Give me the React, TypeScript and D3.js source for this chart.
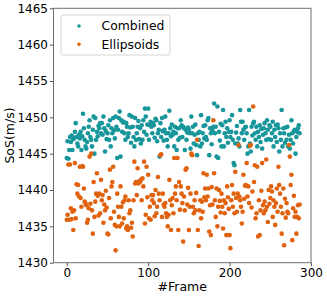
import React, { useEffect, useRef } from 'react';
import * as d3 from 'd3';

// SoS per frame
const combined: number[] = [
  1444.4, 1446.7, 1444.3, 1445.5, 1447.3, 1446.6, 1447.5, 1445.5, 1447.0, 1447.2,
  1448.0, 1449.2, 1447.3, 1446.4, 1446.0, 1447.6, 1447.1, 1448.0, 1445.5, 1447.4,
  1450.5, 1448.5, 1446.9, 1446.0, 1445.7, 1446.6, 1447.8, 1448.7, 1449.6, 1447.3,
  1446.9, 1446.0, 1448.3, 1450.1, 1445.0, 1449.9, 1446.9, 1448.0, 1447.4, 1448.8,
  1448.5, 1449.2, 1447.8, 1449.2, 1447.6, 1450.1, 1448.5, 1445.3, 1448.1, 1447.0,
  1447.8, 1448.9, 1446.9, 1449.6, 1446.0, 1448.5, 1447.8, 1449.9, 1448.2, 1447.1,
  1450.1, 1448.7, 1444.4, 1448.3, 1449.9, 1450.8, 1444.6, 1449.6, 1448.0, 1449.3,
  1449.4, 1447.8, 1446.9, 1449.2, 1448.7, 1447.3, 1447.8, 1450.3, 1448.6, 1446.5,
  1450.1, 1448.7, 1447.3, 1446.0, 1449.9, 1446.9, 1447.8, 1448.7, 1449.5, 1447.0,
  1448.5, 1446.4, 1448.9, 1446.9, 1449.6, 1448.0, 1451.2, 1450.1, 1447.6, 1449.0,
  1451.2, 1446.9, 1448.9, 1449.4, 1448.7, 1447.8, 1449.2, 1448.9, 1447.2, 1449.8,
  1449.6, 1446.7, 1447.8, 1448.3, 1444.6, 1449.2, 1447.3, 1449.9, 1448.1, 1446.8,
  1448.3, 1450.1, 1447.8, 1446.9, 1446.0, 1447.8, 1450.9, 1448.5, 1447.4, 1449.0,
  1447.6, 1448.0, 1446.0, 1448.7, 1447.8, 1445.5, 1448.5, 1446.9, 1448.5, 1447.2,
  1449.6, 1448.9, 1447.3, 1448.7, 1448.5, 1445.5, 1448.3, 1446.9, 1447.9, 1448.6,
  1448.3, 1447.8, 1445.7, 1450.1, 1447.8, 1448.7, 1446.4, 1447.6, 1449.0, 1446.2,
  1444.8, 1447.8, 1446.9, 1448.0, 1446.0, 1450.3, 1446.4, 1447.8, 1448.8, 1447.1,
  1448.9, 1447.3, 1446.9, 1449.6, 1449.9, 1444.8, 1448.5, 1447.8, 1446.3, 1448.2,
  1448.7, 1451.9, 1447.8, 1448.7, 1444.6, 1451.5, 1444.4, 1448.0, 1446.8, 1449.1,
  1446.0, 1448.9, 1451.0, 1446.0, 1447.8, 1449.4, 1447.3, 1448.5, 1446.5, 1448.0,
  1449.6, 1447.3, 1448.0, 1450.3, 1446.9, 1443.7, 1443.4, 1446.4, 1447.9, 1448.8,
  1446.4, 1447.1, 1446.0, 1451.0, 1449.4, 1447.8, 1449.4, 1448.3, 1446.9, 1448.6,
  1448.7, 1447.8, 1445.0, 1446.0, 1451.0, 1446.4, 1445.3, 1448.7, 1447.5, 1449.2,
  1449.4, 1447.8, 1446.9, 1448.7, 1446.0, 1448.0, 1447.3, 1448.9, 1446.6, 1448.4,
  1445.7, 1447.6, 1448.5, 1449.2, 1447.8, 1446.9, 1449.6, 1448.3, 1447.0, 1448.9,
  1448.7, 1446.9, 1447.8, 1449.4, 1446.0, 1448.3, 1447.3, 1448.9, 1446.6, 1449.0,
  1448.5, 1445.3, 1447.8, 1446.9, 1451.0, 1446.0, 1448.5, 1447.8, 1446.5, 1448.6,
  1446.9, 1448.7, 1446.0, 1447.6, 1445.7, 1446.9, 1449.6, 1447.8, 1446.4, 1448.1,
  1448.3, 1445.0, 1447.3, 1448.0, 1448.5, 1448.9, 1447.8,
];

const ellipsoids: number[] = [
  1435.9, 1436.6, 1443.5, 1435.9, 1443.5, 1437.5, 1436.0, 1437.0, 1434.5, 1437.2,
  1443.7, 1436.1, 1440.8, 1439.5, 1440.7, 1439.1, 1443.2, 1438.9, 1437.7, 1443.3,
  1443.2, 1440.2, 1438.4, 1438.2, 1437.9, 1435.5, 1435.9, 1437.5, 1444.6, 1438.1,
  1445.0, 1437.2, 1434.0, 1441.1, 1436.3, 1438.4, 1439.5, 1442.3, 1439.2, 1436.5,
  1439.5, 1436.8, 1441.4, 1438.6, 1439.3, 1435.5, 1438.0, 1437.2, 1439.9, 1437.6,
  1434.0, 1433.9, 1438.9, 1442.8, 1436.1, 1440.5, 1441.1, 1443.2, 1437.0, 1435.2,
  1431.7, 1435.0, 1439.5, 1437.7, 1436.3, 1435.0, 1440.5, 1437.7, 1435.4, 1438.3,
  1436.1, 1438.6, 1439.1, 1434.7, 1435.0, 1434.5, 1438.6, 1436.8, 1437.2, 1434.8,
  1435.5, 1433.6, 1438.6, 1443.9, 1440.9, 1441.1, 1439.3, 1443.0, 1440.9, 1441.2,
  1441.1, 1441.4, 1438.6, 1441.6, 1440.5, 1443.9, 1435.4, 1436.6, 1443.2, 1439.0,
  1442.1, 1436.1, 1437.7, 1435.9, 1439.3, 1438.6, 1439.3, 1438.2, 1436.4, 1440.0,
  1436.8, 1437.7, 1441.8, 1439.5, 1438.6, 1444.8, 1444.9, 1436.3, 1439.5, 1438.0,
  1437.7, 1438.2, 1436.8, 1436.3, 1435.0, 1436.6, 1441.4, 1438.6, 1434.5, 1437.9,
  1438.9, 1436.8, 1444.4, 1439.5, 1440.5, 1438.6, 1444.4, 1434.5, 1441.1, 1437.3,
  1440.5, 1439.5, 1438.2, 1432.9, 1439.1, 1437.2, 1442.8, 1443.0, 1438.0, 1440.3,
  1434.5, 1437.7, 1439.5, 1445.0, 1444.8, 1437.7, 1436.8, 1438.6, 1437.2, 1439.6,
  1446.9, 1434.5, 1432.3, 1437.2, 1438.6, 1436.1, 1438.4, 1437.0, 1442.3, 1439.0,
  1440.2, 1438.6, 1442.1, 1439.1, 1440.2, 1434.3, 1437.9, 1433.8, 1440.4, 1438.0,
  1449.6, 1442.3, 1438.6, 1436.3, 1440.2, 1435.0, 1437.7, 1440.0, 1438.5, 1436.9,
  1439.5, 1437.7, 1434.7, 1438.6, 1436.8, 1438.2, 1433.8, 1440.5, 1439.0, 1437.4,
  1433.8, 1432.0, 1438.6, 1440.7, 1437.7, 1439.5, 1436.8, 1442.5, 1438.9, 1437.0,
  1439.5, 1446.2, 1439.1, 1438.6, 1437.7, 1435.4, 1437.0, 1442.1, 1438.8, 1440.6,
  1440.7, 1443.7, 1439.1, 1440.5, 1438.2, 1446.1, 1446.2, 1437.6, 1439.8, 1451.5,
  1441.1, 1443.4, 1436.1, 1436.8, 1443.2, 1433.6, 1438.6, 1433.8, 1437.2, 1439.9,
  1443.7, 1437.9, 1436.8, 1438.4, 1437.2, 1444.2, 1437.7, 1435.6, 1440.0, 1438.1,
  1438.9, 1440.5, 1439.8, 1436.3, 1438.6, 1437.7, 1435.2, 1438.2, 1440.2, 1437.0,
  1443.2, 1440.7, 1439.5, 1437.7, 1434.0, 1436.8, 1440.2, 1432.4, 1438.8, 1436.2,
  1438.2, 1437.0, 1436.8, 1446.2, 1444.6, 1440.7, 1442.1, 1433.1, 1437.5, 1439.2,
  1436.3, 1437.0, 1434.0, 1436.3, 1437.9, 1436.1, 1438.0,
];

const seriesNames = ['Combined', 'Ellipsoids'];
const seriesColors = ['#17969b', '#e0620f'];
const yTicks = [1430, 1435, 1440, 1445, 1450, 1455, 1460, 1465];
const xTicks = [0, 100, 200, 300];

const W = 327;
const H = 298;
const margin = { top: 8.3, right: 16, bottom: 35.3, left: 53.5 };
const FONT = 'DejaVu Sans, sans-serif';

const Scatter: React.FC = () => {
  const svgRef = useRef<SVGSVGElement>(null);

  useEffect(() => {
    if (!svgRef.current) return;
    const svg = d3.select(svgRef.current);
    svg.selectAll('*').remove();

    const x = d3.scaleLinear().domain([-16.3, 300]).range([margin.left, W - margin.right]);
    const y = d3.scaleLinear().domain([1430, 1465]).range([H - margin.bottom, margin.top]);

    const series = [combined, ellipsoids];
    series.forEach((vals, si) => {
      svg
        .append('g')
        .selectAll('circle')
        .data(vals)
        .enter()
        .append('circle')
        .attr('cx', (_d, i) => x(i))
        .attr('cy', (d) => y(d))
        .attr('r', 2.3)
        .attr('fill', seriesColors[si]);
    });

    // frame
    svg
      .append('rect')
      .attr('x', margin.left)
      .attr('y', margin.top)
      .attr('width', W - margin.right - margin.left)
      .attr('height', H - margin.bottom - margin.top)
      .attr('fill', 'none')
      .attr('stroke', '#6e6e6e')
      .attr('stroke-width', 1);

    const yAxis = svg
      .append('g')
      .attr('transform', `translate(${margin.left},0)`)
      .call(d3.axisLeft(y).tickValues(yTicks).tickSize(3.5).tickPadding(2).tickFormat(d3.format('d')));
    const xAxis = svg
      .append('g')
      .attr('transform', `translate(0,${H - margin.bottom})`)
      .call(d3.axisBottom(x).tickValues(xTicks).tickSize(3.5).tickPadding(2).tickFormat(d3.format('d')));

    [yAxis, xAxis].forEach((a) => {
      a.select('.domain').remove();
      a.selectAll('line').attr('stroke', '#555');
      a.selectAll('text').attr('font-family', FONT).attr('font-size', 12).attr('fill', '#000');
    });

    svg
      .append('text')
      .attr('x', (margin.left + W - margin.right) / 2)
      .attr('y', 291)
      .attr('text-anchor', 'middle')
      .attr('font-family', FONT)
      .attr('font-size', 12.5)
      .text('#Frame');

    svg
      .append('text')
      .attr('transform', `translate(14,${(margin.top + H - margin.bottom) / 2}) rotate(-90)`)
      .attr('text-anchor', 'middle')
      .attr('font-family', FONT)
      .attr('font-size', 12.5)
      .text('SoS(m/s)');

    // legend
    const lg = svg.append('g');
    lg.append('rect')
      .attr('x', 61)
      .attr('y', 15)
      .attr('width', 109)
      .attr('height', 40)
      .attr('rx', 2)
      .attr('fill', 'white')
      .attr('fill-opacity', 0.8)
      .attr('stroke', '#d6d6d6')
      .attr('stroke-width', 1);
    seriesNames.forEach((name, i) => {
      const cy = 26 + i * 18.3;
      lg.append('circle').attr('cx', 79).attr('cy', cy).attr('r', 1.8).attr('fill', seriesColors[i]);
      lg.append('text')
        .attr('x', 101.5)
        .attr('y', cy)
        .attr('dy', '0.36em')
        .attr('font-family', FONT)
        .attr('font-size', 12.4)
        .text(name);
    });
  }, []);

  return <svg ref={svgRef} width={W} height={H} style={{ position: 'absolute', left: 0, top: 0 }} />;
};

export default function App() {
  return (
    <div>
      <Scatter />
    </div>
  );
}
